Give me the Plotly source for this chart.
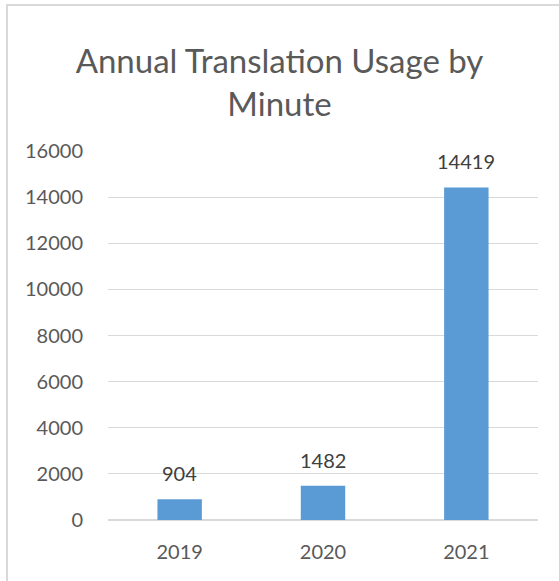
import plotly.graph_objects as go

years = ["2019", "2020", "2021"]
minutes = [904, 1482, 14419]
y_ticks = [0, 2000, 4000, 6000, 8000, 10000, 12000, 14000, 16000]

TEXT = "#595959"
GRID = "#d9d9d9"
BAR = "#5b9bd5"
FONT = "Lato, Carlito, Open Sans, sans-serif"

fig = go.Figure(
    go.Bar(
        x=years,
        y=minutes,
        marker={"color": BAR, "line": {"width": 0}},
        hoverinfo="x+y",
    )
)

# value labels sitting above each bar (category index keeps numeric-looking years on the category axis)
for i, value in enumerate(minutes):
    fig.add_annotation(
        x=i,
        y=value,
        text=str(value),
        showarrow=False,
        yanchor="bottom",
        yshift=12,
        font={"size": 20, "color": "#404040", "family": FONT},
    )

# chart-area border: only the left and top edges are visible in the crop
bx0 = (7 - 108) / 430
bx1 = (600 - 108) / 430
by0 = (520 - 620) / 369
by1 = (520 - 5) / 369

fig.update_layout(
    width=559,
    height=581,
    margin={"l": 108, "r": 21, "t": 151, "b": 61},
    paper_bgcolor="white",
    plot_bgcolor="white",
    font={"family": FONT, "color": TEXT, "size": 20},
    showlegend=False,
    bargap=0.69,
    title={
        "text": "Annual Translation Usage by<br>Minute",
        "x": 0.5,
        "xanchor": "center",
        "y": 0.875,
        "yanchor": "top",
        "font": {"size": 33, "color": TEXT, "family": FONT},
    },
    xaxis={
        "type": "category",
        "range": [-0.5, len(years) - 0.5],
        "showgrid": False,
        "showline": True,
        "linecolor": GRID,
        "linewidth": 1,
        "ticks": "",
        "ticklabelstandoff": 14,
        "tickfont": {"size": 20, "color": TEXT},
    },
    yaxis={
        "range": [0, 16000],
        "tickvals": y_ticks,
        "ticktext": [str(t) for t in y_ticks],
        "showgrid": True,
        "gridcolor": GRID,
        "gridwidth": 1,
        "zeroline": True,
        "zerolinecolor": GRID,
        "showline": False,
        "ticks": "",
        "ticklabelstandoff": 24,
        "tickfont": {"size": 20, "color": TEXT},
    },
    shapes=[
        {
            "type": "path",
            "xref": "paper",
            "yref": "paper",
            "path": f"M {bx0},{by0} L {bx0},{by1} L {bx1},{by1}",
            "line": {"color": GRID, "width": 2},
            "layer": "below",
        }
    ],
)

fig.write_html(
    "out.html",
    config={"displayModeBar": False},
    post_script="document.body.style.margin = '0'; document.body.style.overflow = 'hidden';",
)
